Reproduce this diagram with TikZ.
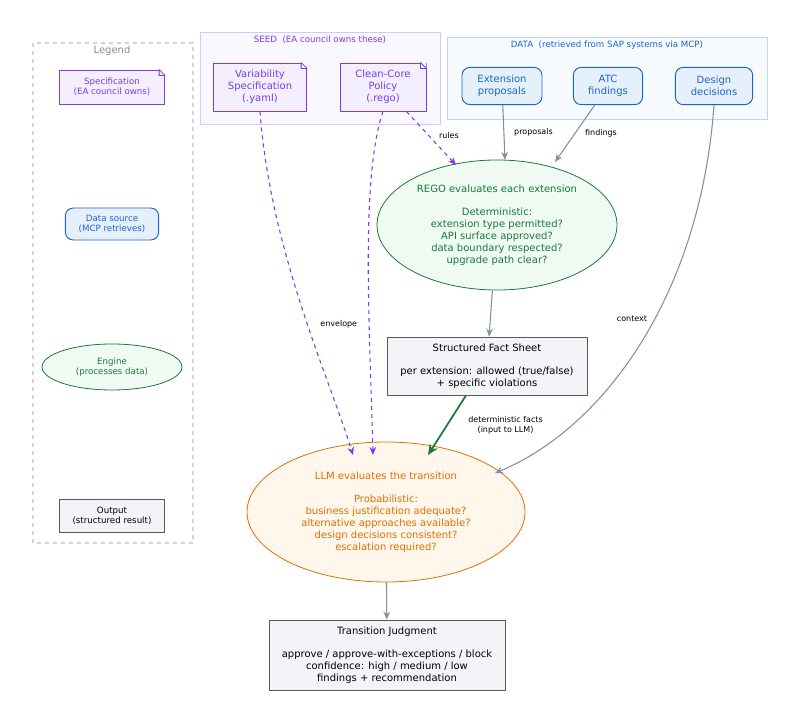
\documentclass[tikz,border=0pt]{standalone}
\usepackage{fontspec}
\setmainfont{DejaVu Sans}
\usetikzlibrary{arrows.meta}
\usetikzlibrary{shapes.geometric}
\definecolor{specc}{RGB}{124,58,237}
\definecolor{specf}{RGB}{243,239,254}
\definecolor{seedf}{RGB}{250,248,255}
\definecolor{seedd}{RGB}{216,200,250}
\definecolor{datac}{RGB}{26,102,204}
\definecolor{dataf}{RGB}{230,240,251}
\definecolor{boxf}{RGB}{247,251,255}
\definecolor{boxd}{RGB}{190,214,240}
\definecolor{engc}{RGB}{26,122,58}
\definecolor{engf}{RGB}{238,250,242}
\definecolor{llmc}{RGB}{224,112,0}
\definecolor{llmf}{RGB}{255,246,236}
\definecolor{outf}{RGB}{243,244,247}
\definecolor{arrc}{RGB}{128,144,160}
\tikzset{
      spec/.style={draw=specc, fill=specf, text=specc, line width=0.7, align=center, inner sep=0},
      data/.style={draw=datac, fill=dataf, text=datac, line width=0.7, rounded corners=6, align=center, inner sep=0},
      engine/.style={ellipse, draw=engc, fill=engf, text=engc, line width=0.6, align=center, inner sep=0},
      llm/.style={ellipse, draw=llmc, fill=llmf, text=llmc, line width=0.6, align=center, inner sep=0},
      output/.style={draw=black!65, fill=outf, line width=0.6, align=center, inner sep=0},
      flow/.style={draw=arrc, line width=0.8, -{Stealth[length=6pt,width=5pt]}},
      seedflow/.style={draw=specc, line width=0.8, dashed, -{Stealth[length=6pt,width=5pt]}},
      lbl/.style={font=\fontsize{6}{7}\selectfont, text=black},
}
\newcommand{\fold}[1]{\fill[white] (#1.north east) ++(-6,0) -- ++(6,0) -- ++(0,6) -- cycle;
      \draw[specc, line width=0.6] (#1.north east) ++(-6,0) -- ++(6,6) ++(-6,-6) -- ++(0,6) -- ++(6,0);}

\begin{document}
\begin{tikzpicture}[x=0.75pt,y=-0.75pt,font=\fontsize{7.5}{9}\selectfont]
        \useasboundingbox (0,0) rectangle (800,716);

        % frames
        \draw[gray!35, dashed, line width=0.8] (33,43) rectangle (193,543);
        \node[text=gray!90] (legend) at (112,51) {Legend};
        \draw[seedd, fill=seedf, line width=0.7] (200,32) rectangle (440,124);
        \node[text=specc, font=\fontsize{6.5}{8}\selectfont] (seedtitle) at (320,40) {SEED\ \ (EA council owns these)};
        \draw[boxd, fill=boxf, line width=0.7] (447,37) rectangle (767,119);
        \node[text=datac, font=\fontsize{6.5}{8}\selectfont] (datatitle) at (607,45) {DATA\ \ (retrieved from SAP systems via MCP)};

        % legend
        \node[spec, minimum width=79, minimum height=25.5, font=\fontsize{6.5}{7.5}\selectfont] (lspec) at (112,87) {Specification\\(EA council owns)};
        \fold{lspec}
        \node[data, minimum width=70, minimum height=24, font=\fontsize{6.5}{7.5}\selectfont] (ldata) at (112,224) {Data source\\(MCP retrieves)};
        \node[engine, minimum width=105, minimum height=34.5, font=\fontsize{6.5}{7.5}\selectfont] (lengine) at (112,367) {Engine\\(processes data)};
        \node[output, minimum width=79, minimum height=25, font=\fontsize{6.5}{7.5}\selectfont] (loutput) at (112,516) {Output\\(structured result)};

        % seed
        \node[spec, minimum width=70, minimum height=36] (varspec) at (260,87) {Variability\\Specification\\(.yaml)};
        \fold{varspec}
        \node[spec, minimum width=64.5, minimum height=36] (policy) at (383,87) {Clean-Core\\Policy\\(.rego)};
        \fold{policy}

        % data
        \node[data, minimum width=60, minimum height=28] (proposals) at (502,86) {Extension\\proposals};
        \node[data, minimum width=52, minimum height=28] (atc) at (608,86) {ATC\\findings};
        \node[data, minimum width=58, minimum height=28] (design) at (714,86) {Design\\decisions};

        % engines and outputs
        \node[engine, minimum width=180, minimum height=97.5] (rego) at (497,225) {REGO evaluates each extension\\[8pt]Deterministic:\\extension type permitted?\\API surface approved?\\data boundary respected?\\upgrade path clear?};
        \node[output, minimum width=150, minimum height=43.5] (facts) at (487,366) {Structured Fact Sheet\\[8pt]per extension: allowed (true/false)\\+ specific violations};
        \node[llm, minimum width=208.5, minimum height=105] (llm) at (386,512) {LLM evaluates the transition\\[8pt]Probabilistic:\\business justification adequate?\\alternative approaches available?\\design decisions consistent?\\escalation required?};
        \node[output, minimum width=177, minimum height=52.5] (judgment) at (387,655) {Transition Judgment\\[8pt]approve / approve-with-exceptions / block\\confidence: high / medium / low\\findings + recommendation};

        % connectors
        \coordinate (rulesin) at (456,165);
        \coordinate (propin) at (505,160);
        \coordinate (findin) at (555,162);
        \coordinate (ctxin) at (495,473);
        \coordinate (envin) at (353,455);
        \coordinate (polin) at (373,455);
        \coordinate (factin) at (428,455);
        \draw[seedflow] (policy.south east) ++(-20,0) -- (rulesin) node[lbl, pos=0.45, right=4pt] {rules};
        \draw[flow] (proposals) -- (propin) node[lbl, midway, right=4pt] {proposals};
        \draw[flow] (atc) -- (findin) node[lbl, midway, right=4pt] {findings};
        \draw[flow] (design.south) .. controls (700,300) and (600,430) .. (ctxin) node[lbl, pos=0.43, left=2pt] {context};
        \draw[seedflow] (varspec.south) .. controls (270,250) and (330,380) .. (envin) node[lbl, pos=0.55, right=6pt] {envelope};
        \draw[seedflow] (policy.south) .. controls (360,180) and (370,330) .. (polin);
        \draw[flow] (rego) -- (facts);
        \draw[draw=engc, line width=1.3, -{Stealth[length=8pt,width=7pt]}] (facts.south) ++(-21,0) -- (factin)
              node[lbl, midway, right=12pt, align=center] {deterministic facts\\(input to LLM)};
        \draw[flow] (llm) -- (judgment);

\end{tikzpicture}
\end{document}
